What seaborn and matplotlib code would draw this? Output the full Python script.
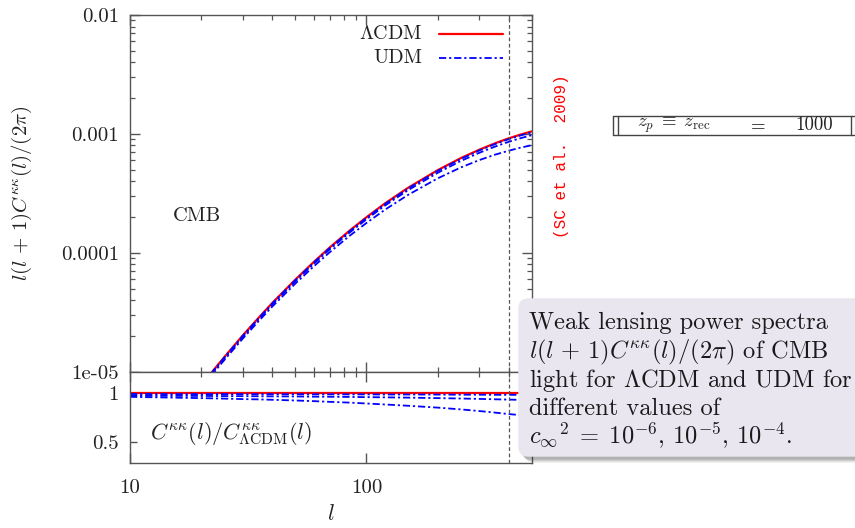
import matplotlib
matplotlib.use("Agg")
import matplotlib.pyplot as plt
from matplotlib.patches import FancyBboxPatch
from matplotlib.lines import Line2D
from matplotlib.ticker import FixedLocator, FixedFormatter, LogLocator, NullFormatter, NullLocator
import numpy as np
import pandas as pd
import seaborn as sns

# multipoles of the spectrum panel (curves enter the panel at l ~ 22)
ell_spec = [22, 25, 30, 35, 40, 50, 60, 70, 85, 100, 120, 150, 200, 250, 300, 350, 400, 450, 500]
lcdm_spec = [9.7e-6, 1.32e-5, 2.02e-5, 2.84e-5, 3.79e-5, 5.94e-5, 8.4e-5, 1.11e-4, 1.54e-4,
             1.99e-4, 2.61e-4, 3.52e-4, 4.95e-4, 6.24e-4, 7.36e-4, 8.34e-4, 9.18e-4, 9.89e-4, 1.05e-3]

# multipoles of the ratio panel
ell_ratio = [10] + ell_spec
udm_labels = ["1e-6", "1e-5", "1e-4"]
ratio_1e6 = [0.992, 0.991, 0.991, 0.991, 0.990, 0.990, 0.990, 0.989, 0.989, 0.988, 0.988,
             0.987, 0.987, 0.986, 0.985, 0.985, 0.984, 0.984, 0.983, 0.983]
ratio_1e5 = [0.975, 0.972, 0.971, 0.970, 0.969, 0.968, 0.967, 0.965, 0.964, 0.962, 0.960,
             0.958, 0.955, 0.950, 0.946, 0.942, 0.938, 0.935, 0.932, 0.929]
ratio_1e4 = [0.963, 0.948, 0.945, 0.940, 0.937, 0.933, 0.926, 0.919, 0.912, 0.904, 0.895,
             0.885, 0.872, 0.853, 0.835, 0.818, 0.802, 0.787, 0.776, 0.765]
ell_cut = 400

y_ticks = [1e-5, 1e-4, 1e-3, 1e-2]
y_tick_labels = ["1e-05", "0.0001", "0.001", "0.01"]
x_ticks = [10, 100]
x_tick_labels = ["10", "100"]
r_ticks = [0.5, 1]
r_tick_labels = ["0.5", "1"]

W, H = 855, 528
RED = "#ff0000"
BLUE = "#0000ff"
GREY = "#555555"
INK = "#222222"
DASHDOT = (0, (4, 1.6, 1.2, 1.6))


def fig_box(x0, y0, x1, y1):
    # pixel box (top-left origin) -> figure fraction rect
    return [x0 / W, 1 - y1 / H, (x1 - x0) / W, (y1 - y0) / H]


def inch(x, y):
    return x / 100, (H - y) / 100


sns.set_theme(style="ticks")
plt.rcParams["font.family"] = ["cmr10", "DejaVu Serif"]
plt.rcParams["mathtext.fontset"] = "cm"
plt.rcParams["axes.unicode_minus"] = False
plt.rcParams["axes.formatter.use_mathtext"] = True

ratios = {"1e-6": ratio_1e6, "1e-5": ratio_1e5, "1e-4": ratio_1e4}
spec = pd.DataFrame({"l": ell_spec, "lcdm": lcdm_spec})
for key in udm_labels:
    spec[key] = spec["lcdm"] * np.array(ratios[key][1:])
rat = pd.DataFrame({"l": ell_ratio, **ratios})
rat["lcdm"] = 1.0

fig = plt.figure(figsize=(W / 100, H / 100), dpi=100)
tr = fig.dpi_scale_trans
ax = fig.add_axes(fig_box(130, 15, 531.7, 371.7))
axr = fig.add_axes(fig_box(130, 371.7, 531.7, 462.7), sharex=ax)

sns.lineplot(data=spec, x="l", y="lcdm", color=RED, lw=1.6, ax=ax)
for key in udm_labels:
    sns.lineplot(data=spec, x="l", y=key, color=BLUE, lw=1.3, linestyle=DASHDOT, ax=ax)
sns.lineplot(data=rat, x="l", y="lcdm", color=RED, lw=1.6, ax=axr)
for key in udm_labels:
    sns.lineplot(data=rat, x="l", y=key, color=BLUE, lw=1.3, linestyle=DASHDOT, ax=axr)

for a in (ax, axr):
    a.axvline(ell_cut, color=GREY, lw=0.9, ls=(0, (3, 2)))
    for s in a.spines.values():
        s.set_color(GREY)
        s.set_linewidth(1.0)
    a.set_xscale("log")
    a.set_xlim(10, 500)
    a.set_xlabel("")
    a.set_ylabel("")

ax.set_yscale("log")
ax.set_ylim(1e-5, 1e-2)
ax.yaxis.set_major_locator(FixedLocator(y_ticks))
ax.yaxis.set_major_formatter(FixedFormatter(y_tick_labels))
ax.yaxis.set_minor_locator(LogLocator(base=10, subs=np.arange(2, 10)))
ax.yaxis.set_minor_formatter(NullFormatter())
ax.xaxis.set_major_locator(FixedLocator(x_ticks))
ax.xaxis.set_major_formatter(FixedFormatter(x_tick_labels))
ax.xaxis.set_minor_locator(LogLocator(base=10, subs=np.arange(2, 10)))
ax.xaxis.set_minor_formatter(NullFormatter())
ax.tick_params(which="both", direction="in", top=True, right=True, labelbottom=False,
               color=GREY, labelsize=15, pad=8, labelcolor=INK)
ax.tick_params(which="major", length=7, width=1.0)
ax.tick_params(which="minor", length=3.5, width=0.9)

axr.set_ylim(0.29, 1.22)
axr.yaxis.set_major_locator(FixedLocator(r_ticks))
axr.yaxis.set_major_formatter(FixedFormatter(r_tick_labels))
axr.yaxis.set_minor_locator(NullLocator())
axr.tick_params(which="both", direction="in", top=True, right=True, color=GREY,
                labelsize=15, labelcolor=INK)
axr.tick_params(axis="y", which="major", length=5, width=1.0, pad=8)
axr.tick_params(axis="x", which="major", length=7, width=1.0, pad=12)
axr.tick_params(axis="x", which="minor", length=3.5, width=0.9, bottom=False)
axr.set_xlabel(r"$l$", fontsize=16, labelpad=5, color=INK)

ax.set_ylabel(r"$l(l\,+\,1)C^{\kappa\kappa}(l)/(2\pi)$", fontsize=15, color=INK)
ax.yaxis.set_label_coords(-0.24, 0.5)

ax.text(0.167, 0.435, "CMB", transform=ax.transAxes, ha="center", va="center",
        fontsize=14.8, color=INK)
axr.text(0.05, 0.26, r"$C^{\kappa\kappa}(l)/C^{\kappa\kappa}_{\Lambda\mathrm{CDM}}(l)$",
         transform=axr.transAxes, ha="left", va="baseline", fontsize=16, color=INK)

# gnuplot-style key: labels right-aligned, samples to their right
key_rows = [(r"$\Lambda$CDM", RED, "-", 1.6, 34), ("UDM", BLUE, DASHDOT, 1.3, 58)]
for label, col, ls, lw, yk in key_rows:
    fig.text(*inch(422.7, yk), label, transform=tr, ha="right", va="center",
             fontsize=14.5, color=INK)
    (xa, ya), (xb, yb) = inch(439, yk), inch(503, yk)
    fig.add_artist(Line2D([xa, xb], [ya, yb], transform=tr, color=col, lw=lw, ls=ls))

# citation written sideways next to the plot
fig.text(561.7 / W, 1 - 156.5 / H, "(SC et al.  2009)", rotation=90, ha="center",
         va="center", family="Liberation Mono", fontsize=11.5, color=RED)

# parameter table fragment
for xs, ys in [((613, 860), (115.5, 115.5)), ((613, 860), (134.5, 134.5)),
               ((613, 613), (115.5, 134.5)), ((618, 618), (115.5, 134.5)),
               ((850.5, 850.5), (115.5, 134.5))]:
    p0, p1 = inch(xs[0], ys[0]), inch(xs[1], ys[1])
    fig.add_artist(Line2D([p0[0], p1[0]], [p0[1], p1[1]], transform=tr, color="#444444", lw=1.0))
fig.text(*inch(636.7, 125), r"$z_p\;\equiv\;z_{\mathrm{rec}}$", transform=tr, ha="left",
         va="center", fontsize=13.5, color=INK)
fig.text(*inch(756, 125), r"$=$", transform=tr, ha="center", va="center", fontsize=13.5,
         color=INK)
fig.text(*inch(833, 125), "1000", transform=tr, ha="right", va="center", fontsize=13.5,
         color=INK)

# callout box with soft shadow
bx, by_top, by_bot, bx1 = 518.3, 298.3, 456.7, 880
for k, alpha in enumerate([0.10, 0.14, 0.18]):
    off = 6 - 1.5 * k
    x0, y0 = inch(bx + off, by_bot + off)
    shadow = FancyBboxPatch((x0, y0), (bx1 - bx) / 100, (by_bot - by_top) / 100,
                            boxstyle="round,pad=0,rounding_size=0.1", transform=tr,
                            facecolor="#303030", edgecolor="none", alpha=alpha, zorder=5)
    fig.add_artist(shadow)
x0, y0 = inch(bx, by_bot)
box = FancyBboxPatch((x0, y0), (bx1 - bx) / 100, (by_bot - by_top) / 100,
                     boxstyle="round,pad=0,rounding_size=0.1", transform=tr,
                     facecolor="#e9e6f0", edgecolor="none", zorder=6)
fig.add_artist(box)

callout_lines = [
    "Weak lensing power spectra",
    r"$l(l\,+\,1)C^{\kappa\kappa}(l)/(2\pi)$ of CMB",
    r"light for $\Lambda$CDM and UDM for",
    "different values of",
    r"${c_\infty}^2\;=\;10^{-6}$, $10^{-5}$, $10^{-4}$.",
]
baselines = [329.5, 358, 386.5, 415, 444]
for line, yb in zip(callout_lines, baselines):
    fig.text(*inch(529, yb), line, transform=tr, ha="left", va="baseline", fontsize=17.6,
             color="#1a1a1a", zorder=7)

fig.savefig("out.png", dpi=100)
